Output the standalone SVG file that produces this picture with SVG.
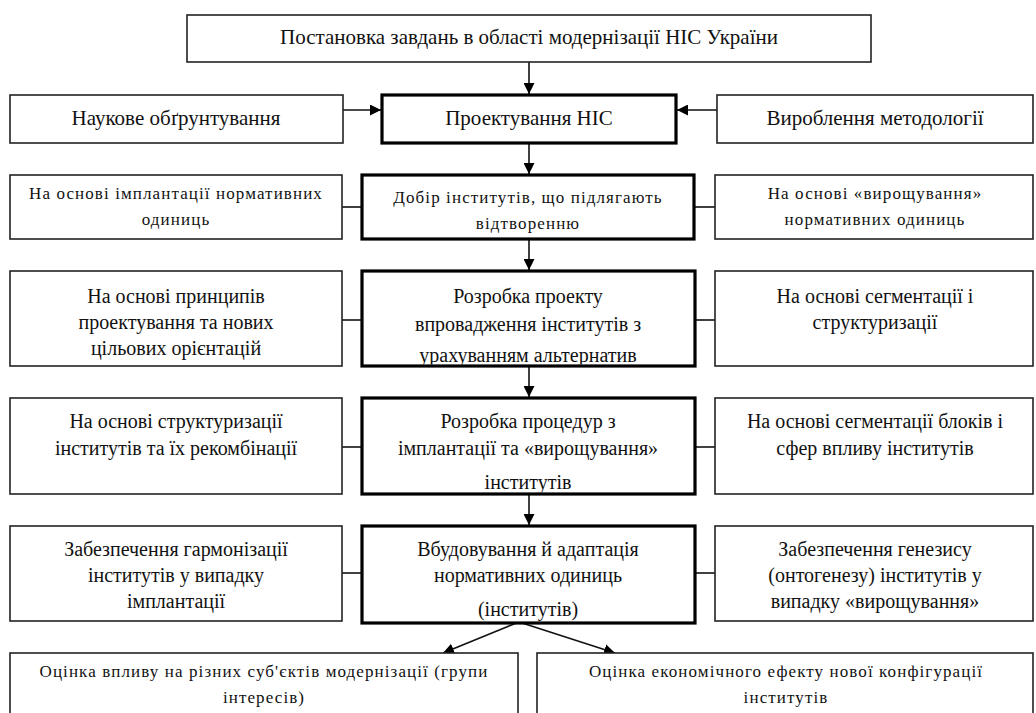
<svg xmlns="http://www.w3.org/2000/svg" width="1036" height="713" viewBox="0 0 1036 713">
<style>
.bg{fill:#fff}
.thin{fill:#fff;stroke:#222;stroke-width:1.6}
.thick{fill:#fff;stroke:#000;stroke-width:3.2}
.t{font-family:"Liberation Serif","Times New Roman",serif;fill:#111;text-anchor:middle}
.big{font-size:21px}
.mid{font-size:20px}
.sm{font-size:17px;letter-spacing:1.1px}
.conn{stroke:#111;stroke-width:1.6;fill:none}
</style>
<defs>
<marker id="ah" viewBox="0 0 10 10" refX="10" refY="5" markerWidth="11" markerHeight="11" orient="auto" markerUnits="userSpaceOnUse"><path d="M0,0 L10,5 L0,10 z" fill="#000"/></marker>
<clipPath id="c4"><rect x="363.6" y="272.6" width="329.8" height="91.8"/></clipPath>
<clipPath id="c5"><rect x="363.6" y="399.6" width="329.8" height="92.8"/></clipPath>
<clipPath id="c6"><rect x="363.6" y="527.6" width="329.8" height="93.8"/></clipPath>
</defs>
<rect class="bg" x="0" y="0" width="1036" height="713"/>

<g id="connectors">
<line class="conn" x1="529" y1="62" x2="529" y2="94" marker-end="url(#ah)"/>
<line class="conn" x1="343" y1="110" x2="381" y2="110" marker-end="url(#ah)"/>
<line class="conn" x1="717" y1="110" x2="677" y2="110" marker-end="url(#ah)"/>
<line class="conn" x1="529" y1="143" x2="529" y2="174" marker-end="url(#ah)"/>
<line class="conn" x1="342" y1="207" x2="362" y2="207"/>
<line class="conn" x1="694" y1="207" x2="715" y2="207"/>
<line class="conn" x1="529" y1="239" x2="529" y2="270" marker-end="url(#ah)"/>
<line class="conn" x1="342" y1="320" x2="362" y2="320"/>
<line class="conn" x1="695" y1="320" x2="715" y2="320"/>
<line class="conn" x1="529" y1="366" x2="529" y2="397" marker-end="url(#ah)"/>
<line class="conn" x1="342" y1="447" x2="362" y2="447"/>
<line class="conn" x1="695" y1="447" x2="715" y2="447"/>
<line class="conn" x1="529" y1="494" x2="529" y2="525" marker-end="url(#ah)"/>
<line class="conn" x1="342" y1="573" x2="362" y2="573"/>
<line class="conn" x1="695" y1="573" x2="715" y2="573"/>
<line class="conn" x1="519" y1="622" x2="443" y2="653" marker-end="url(#ah)"/>
<line class="conn" x1="519" y1="622" x2="615" y2="653" marker-end="url(#ah)"/>
</g>

<g id="n-top">
<rect class="thin" x="187" y="15" width="684" height="47"/>
<text class="t big" x="529" y="44">Постановка завдань в області модернізації НІС України</text>
</g>

<g id="n-nauk">
<rect class="thin" x="10" y="95" width="333" height="48"/>
<text class="t big" x="176" y="125">Наукове обґрунтування</text>
</g>
<g id="n-proekt">
<rect class="thick" x="382" y="95" width="294" height="48"/>
<text class="t big" x="529" y="125">Проектування НІС</text>
</g>
<g id="n-metod">
<rect class="thin" x="717" y="95" width="316" height="48"/>
<text class="t big" x="875" y="125">Вироблення методології</text>
</g>

<g id="n-impl">
<rect class="thin" x="10" y="175" width="332" height="64"/>
<text class="t sm" x="176" y="199">На основі імплантації нормативних</text>
<text class="t sm" x="176" y="225">одиниць</text>
</g>
<g id="n-dobir">
<rect class="thick" x="362" y="175" width="332" height="64"/>
<text class="t sm" x="528" y="203">Добір інститутів, що підлягають</text>
<text class="t sm" x="528" y="229">відтворенню</text>
</g>
<g id="n-vyr">
<rect class="thin" x="715" y="175" width="318" height="64"/>
<text class="t sm" x="875" y="199">На основі «вирощування»</text>
<text class="t sm" x="875" y="225">нормативних одиниць</text>
</g>

<g id="n-pryntsyp">
<rect class="thin" x="10" y="271" width="332" height="95"/>
<text class="t mid" x="176" y="303">На основі принципів</text>
<text class="t mid" x="176" y="329">проектування та нових</text>
<text class="t mid" x="176" y="355">цільових орієнтацій</text>
</g>
<g id="n-proekt2">
<rect class="thick" x="362" y="271" width="333" height="95"/>
<g clip-path="url(#c4)">
<text class="t mid" x="528" y="303">Розробка проекту</text>
<text class="t mid" x="528" y="331">впровадження інститутів з</text>
<text class="t mid" x="528" y="362">урахуванням альтернатив</text>
</g>
</g>
<g id="n-segm">
<rect class="thin" x="715" y="271" width="318" height="95"/>
<text class="t mid" x="875" y="303">На основі сегментації і</text>
<text class="t mid" x="875" y="329">структуризації</text>
</g>

<g id="n-strukt">
<rect class="thin" x="10" y="398" width="332" height="96"/>
<text class="t mid" x="176" y="428">На основі структуризації</text>
<text class="t mid" x="176" y="455">інститутів та їх рекомбінації</text>
</g>
<g id="n-proced">
<rect class="thick" x="362" y="398" width="333" height="96"/>
<g clip-path="url(#c5)">
<text class="t mid" x="528" y="428">Розробка процедур з</text>
<text class="t mid" x="528" y="455">імплантації та «вирощування»</text>
<text class="t mid" x="528" y="489">інститутів</text>
</g>
</g>
<g id="n-segmblok">
<rect class="thin" x="715" y="398" width="318" height="96"/>
<text class="t mid" x="875" y="428">На основі сегментації блоків і</text>
<text class="t mid" x="875" y="455">сфер впливу інститутів</text>
</g>

<g id="n-garm">
<rect class="thin" x="10" y="526" width="332" height="95"/>
<text class="t mid" x="176" y="556">Забезпечення гармонізації</text>
<text class="t mid" x="176" y="582">інститутів у випадку</text>
<text class="t mid" x="176" y="608">імплантації</text>
</g>
<g id="n-vbud">
<rect class="thick" x="362" y="526" width="333" height="97"/>
<g clip-path="url(#c6)">
<text class="t mid" x="528" y="556">Вбудовування й адаптація</text>
<text class="t mid" x="528" y="582">нормативних одиниць</text>
<text class="t mid" x="528" y="616">(інститутів)</text>
</g>
</g>
<g id="n-genez">
<rect class="thin" x="715" y="526" width="318" height="95"/>
<text class="t mid" x="875" y="556">Забезпечення генезису</text>
<text class="t mid" x="875" y="582">(онтогенезу) інститутів у</text>
<text class="t mid" x="875" y="608">випадку «вирощування»</text>
</g>

<g id="n-otsinka1">
<rect class="thin" x="10" y="653" width="508" height="80"/>
<text class="t sm" x="264" y="677">Оцінка впливу на різних суб'єктів модернізації (групи</text>
<text class="t sm" x="264" y="703">інтересів)</text>
</g>
<g id="n-otsinka2">
<rect class="thin" x="537" y="653" width="496" height="80"/>
<text class="t sm" x="786" y="677">Оцінка економічного ефекту нової конфігурації</text>
<text class="t sm" x="786" y="703">інститутів</text>
</g>
</svg>
